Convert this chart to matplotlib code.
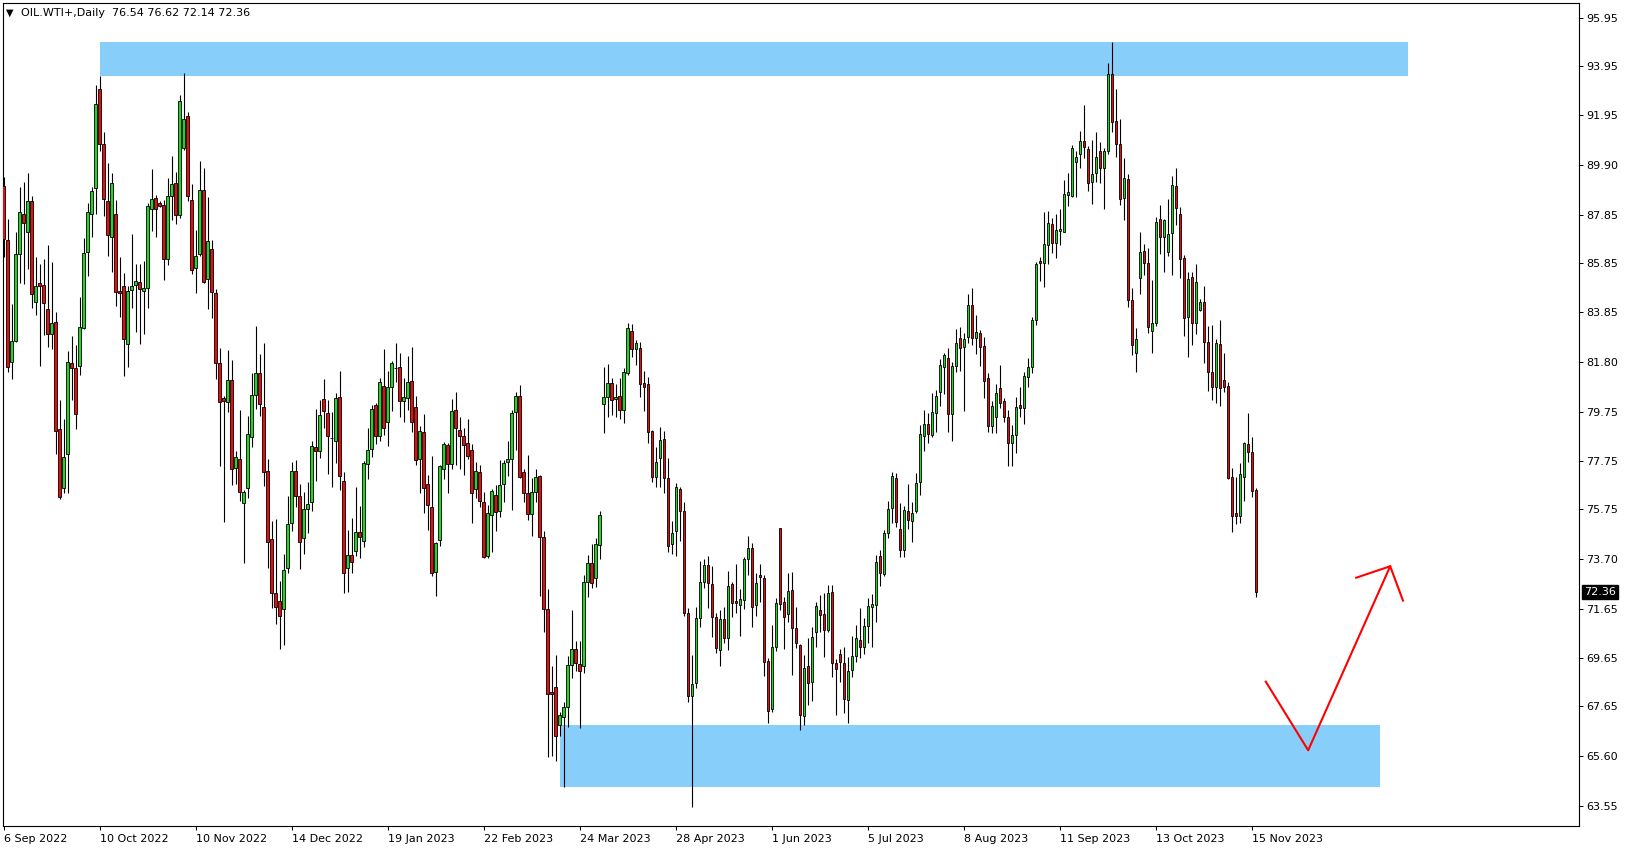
import numpy as np
import matplotlib
matplotlib.use("Agg")
import matplotlib.pyplot as plt
from matplotlib.patches import Rectangle
import matplotlib.transforms as mtransforms

# daily OHLC, 6 Sep 2022 .. 16 Nov 2023
opens = [89.03, 86.82, 81.82, 82.67, 86.23, 87.88, 87.13, 88.41, 84.26, 85.04,
         84.97, 83.98, 82.94, 83.43, 79.04, 76.62, 78.01, 81.75, 81.55, 81.65,
         83.19, 86.31, 87.87, 88.94, 93.00, 90.75, 88.41, 86.95, 87.88, 84.72,
         84.91, 82.54, 84.74, 84.98, 85.08, 84.71, 84.83, 88.10, 88.52, 88.34,
         88.26, 86.02, 88.62, 89.16, 87.83, 90.58, 91.89, 88.45, 85.66, 86.22,
         88.88, 85.20, 86.44, 84.63, 81.77, 80.33, 80.15, 81.07, 77.44, 77.81,
         76.00, 76.62, 78.74, 80.45, 81.34, 79.94, 77.34, 74.52, 72.33, 72.00,
         71.64, 73.33, 75.20, 77.33, 76.31, 74.56, 75.75, 76.03, 78.33, 78.16,
         80.28, 79.70, 78.67, 78.56, 80.35, 76.93, 73.33, 73.86, 74.04, 74.82,
         74.46, 77.60, 78.22, 80.04, 78.78, 80.82, 79.33, 80.76, 81.54, 81.59,
         80.20, 80.31, 81.04, 79.94, 77.81, 78.92, 76.78, 75.83, 73.16, 74.47,
         77.40, 78.40, 77.60, 79.83, 79.01, 78.77, 78.46, 78.19, 76.57, 77.27,
         76.04, 73.85, 75.52, 76.34, 75.66, 76.78, 77.71, 77.81, 79.76, 80.41,
         77.27, 76.41, 75.55, 76.48, 77.12, 74.60, 71.64, 68.23, 68.44, 66.87,
         67.23, 67.62, 69.36, 70.00, 69.40, 69.32, 72.78, 73.53, 72.92, 74.29,
         80.07, 80.35, 80.93, 80.30, 80.42, 79.81, 81.34, 83.09, 82.33, 82.37,
         80.93, 80.89, 78.97, 77.07, 77.85, 78.64, 77.03, 74.32, 74.84, 76.59,
         75.68, 71.48, 68.06, 68.60, 71.27, 72.75, 73.47, 72.67, 71.34, 69.97,
         71.25, 70.48, 72.68, 72.00, 71.82, 72.03, 73.70, 74.15, 71.80, 73.04,
         72.92, 69.52, 67.54, 70.08, 74.97, 71.93, 71.45, 72.44, 70.86, 70.18,
         67.24, 69.32, 68.65, 70.70, 71.62, 71.45, 70.80, 72.37, 69.43, 69.81,
         69.43, 67.92, 69.15, 69.73, 70.38, 70.08, 70.96, 71.73, 71.82, 73.84,
         73.10, 74.77, 75.79, 77.03, 74.93, 74.08, 75.68, 75.25, 75.70, 76.89,
         78.78, 79.26, 78.81, 79.70, 80.55, 81.61, 81.95, 79.67, 81.65, 82.78,
         82.41, 82.82, 84.15, 82.78, 82.98, 82.46, 81.13, 79.18, 79.53, 80.72,
         80.20, 79.53, 78.49, 78.81, 80.04, 79.90, 81.20, 81.59, 83.53, 85.97,
         85.86, 86.61, 87.46, 86.68, 87.19, 87.16, 88.66, 88.64, 90.01, 90.35,
         90.86, 90.54, 89.21, 89.55, 90.45, 89.79, 90.45, 93.62, 91.71, 90.75,
         88.53, 89.31, 84.33, 82.16, 85.27, 86.36, 85.86, 83.09, 83.42, 87.67,
         86.95, 86.30, 87.12, 89.04, 87.88, 86.06, 83.64, 85.28, 83.42, 83.94,
         84.26, 82.61, 81.38, 80.79, 82.53, 81.07, 80.82, 77.07, 75.59, 75.49,
         77.06, 78.42, 78.09, 76.54]
highs = [89.42, 87.67, 84.19, 87.15, 89.01, 89.20, 89.58, 88.64, 86.13, 85.83,
         86.04, 86.61, 85.93, 83.85, 80.24, 79.46, 82.26, 82.87, 82.50, 84.46,
         86.88, 88.32, 89.01, 93.18, 93.55, 91.27, 89.99, 89.55, 88.46, 86.13,
         85.45, 84.94, 87.07, 85.82, 85.82, 85.94, 88.34, 89.73, 88.65, 88.41,
         88.46, 89.34, 90.27, 89.60, 92.77, 93.67, 92.09, 89.11, 87.22, 90.04,
         89.78, 88.57, 86.82, 84.78, 82.39, 80.41, 82.31, 81.89, 78.15, 79.83,
         76.55, 79.59, 81.34, 83.30, 82.13, 82.60, 77.81, 75.29, 75.34, 72.82,
         73.92, 76.30, 77.71, 77.78, 76.79, 76.48, 76.89, 78.56, 79.86, 80.24,
         81.11, 80.24, 79.73, 80.54, 81.43, 77.30, 74.88, 75.38, 76.68, 75.89,
         77.74, 79.08, 80.04, 80.13, 81.16, 82.34, 81.43, 81.85, 82.60, 82.19,
         81.13, 82.05, 82.41, 80.41, 79.18, 79.67, 77.16, 77.94, 74.42, 77.57,
         78.53, 78.46, 80.27, 80.55, 79.53, 79.08, 79.45, 78.44, 77.68, 77.57,
         76.45, 75.93, 76.59, 76.75, 77.78, 77.78, 78.56, 79.81, 80.56, 80.86,
         77.40, 77.98, 77.03, 77.41, 77.16, 74.84, 72.47, 69.32, 69.77, 67.44,
         67.85, 69.73, 71.62, 70.32, 70.32, 73.06, 73.88, 74.33, 74.56, 75.66,
         81.59, 81.72, 81.13, 80.90, 81.13, 81.54, 83.42, 83.37, 82.71, 82.64,
         81.44, 81.18, 79.01, 78.30, 79.12, 78.98, 77.85, 75.25, 76.85, 76.66,
         76.03, 71.71, 69.77, 71.73, 73.64, 73.70, 73.84, 73.42, 71.48, 71.62,
         71.73, 73.22, 72.78, 73.51, 72.48, 73.81, 74.66, 74.36, 73.12, 73.51,
         73.05, 69.63, 71.00, 72.10, 74.97, 72.14, 73.12, 73.19, 71.73, 70.22,
         69.77, 70.45, 70.93, 71.96, 72.23, 72.30, 72.64, 72.64, 69.59, 70.01,
         70.11, 69.67, 70.56, 71.00, 71.71, 71.27, 72.10, 72.27, 73.88, 74.08,
         74.90, 76.11, 77.30, 77.26, 75.99, 75.89, 76.79, 76.07, 77.26, 79.22,
         79.83, 79.70, 80.52, 80.66, 81.91, 82.19, 82.37, 81.79, 83.16, 83.23,
         82.98, 84.60, 84.83, 83.74, 83.12, 82.82, 81.34, 80.18, 80.89, 81.68,
         80.31, 79.83, 79.22, 80.38, 80.79, 81.38, 81.98, 83.67, 85.89, 86.11,
         87.98, 88.01, 87.71, 87.89, 88.09, 89.28, 89.55, 90.72, 90.47, 91.29,
         92.36, 90.68, 90.92, 91.27, 90.83, 90.58, 94.07, 94.96, 93.02, 91.79,
         90.17, 89.51, 84.83, 83.19, 87.16, 86.64, 86.47, 85.15, 87.75, 88.25,
         87.67, 88.50, 89.45, 89.76, 88.16, 86.20, 85.49, 85.49, 85.82, 84.39,
         84.93, 83.28, 83.32, 82.75, 83.53, 82.19, 81.00, 77.44, 77.09, 77.67,
         78.53, 79.70, 78.71, 76.62]
lows = [86.13, 81.41, 81.09, 82.64, 85.06, 85.00, 85.62, 84.01, 83.74, 81.65,
        82.91, 82.41, 82.33, 78.01, 76.16, 76.41, 76.44, 80.22, 79.04, 81.27,
        83.15, 85.35, 86.95, 87.88, 90.45, 87.78, 86.17, 85.49, 84.12, 83.64,
        81.23, 81.61, 84.04, 83.05, 82.54, 82.96, 84.04, 87.20, 86.95, 88.15,
        85.17, 85.79, 87.64, 87.49, 87.72, 90.50, 88.41, 85.40, 84.63, 86.14,
        85.06, 83.98, 83.59, 81.11, 77.52, 75.23, 79.73, 76.75, 76.79, 76.11,
        73.53, 76.20, 78.30, 79.86, 79.59, 76.71, 73.33, 71.69, 71.04, 70.00,
        70.18, 73.12, 74.84, 75.83, 73.30, 73.92, 74.77, 75.70, 76.93, 77.85,
        79.08, 77.20, 76.68, 77.64, 76.55, 72.33, 72.37, 73.15, 73.84, 73.77,
        74.22, 77.00, 77.88, 78.44, 78.56, 78.81, 78.37, 79.80, 80.96, 79.56,
        79.35, 79.83, 78.94, 77.55, 76.44, 75.59, 74.88, 73.03, 72.17, 74.25,
        77.00, 76.44, 77.40, 77.57, 77.40, 77.14, 77.81, 75.20, 76.23, 75.84,
        73.74, 73.74, 74.01, 74.86, 75.45, 76.03, 77.12, 75.73, 78.19, 77.03,
        76.03, 75.31, 74.67, 76.03, 72.19, 70.69, 65.59, 65.62, 65.43, 66.45,
        64.36, 66.82, 68.81, 69.09, 66.76, 69.04, 72.14, 72.51, 72.55, 73.70,
        78.90, 79.53, 79.63, 79.56, 79.45, 79.28, 81.27, 82.00, 81.68, 80.38,
        79.77, 78.46, 76.89, 76.66, 76.66, 76.41, 73.99, 73.92, 73.85, 74.43,
        71.37, 67.85, 63.54, 68.40, 70.93, 72.51, 71.71, 70.52, 69.84, 69.33,
        70.27, 69.97, 71.34, 71.48, 70.56, 71.64, 73.05, 70.90, 71.38, 71.93,
        68.92, 66.96, 67.44, 69.93, 71.62, 70.00, 71.10, 68.95, 70.04, 66.69,
        66.89, 67.70, 67.89, 70.08, 70.73, 69.67, 70.73, 68.85, 67.30, 68.65,
        67.40, 66.96, 68.85, 69.47, 69.63, 69.80, 70.25, 70.11, 71.10, 72.58,
        72.99, 74.56, 75.20, 75.01, 73.78, 73.78, 74.93, 74.42, 75.61, 76.34,
        78.16, 78.46, 78.70, 78.94, 80.01, 80.49, 78.94, 78.57, 81.41, 81.45,
        79.80, 82.57, 82.50, 82.12, 81.65, 80.31, 78.94, 78.87, 78.90, 79.90,
        79.35, 77.51, 77.51, 78.08, 79.56, 79.26, 80.79, 81.34, 83.33, 85.13,
        84.90, 85.82, 86.27, 86.06, 86.59, 87.13, 88.19, 88.56, 88.56, 89.79,
        90.20, 88.83, 88.28, 89.21, 89.14, 88.08, 90.34, 91.24, 90.24, 88.25,
        87.64, 84.08, 82.07, 81.41, 84.59, 85.38, 82.98, 82.19, 83.26, 86.23,
        85.48, 86.16, 85.38, 87.43, 85.24, 82.85, 82.00, 82.48, 82.96, 83.91,
        81.75, 80.63, 80.22, 80.13, 80.01, 80.55, 77.00, 74.83, 75.14, 75.20,
        76.11, 77.71, 76.25, 72.14]
closes = [86.84, 81.59, 82.67, 86.23, 87.95, 87.53, 88.41, 84.59, 84.93, 84.94,
          84.22, 82.94, 83.39, 78.97, 76.27, 77.89, 81.82, 81.55, 79.65, 83.23,
          86.27, 87.95, 88.84, 92.39, 90.75, 88.49, 87.00, 89.14, 84.69, 84.63,
          82.74, 84.71, 84.91, 85.12, 84.78, 84.83, 88.21, 88.49, 88.07, 88.23,
          86.02, 88.62, 89.11, 87.83, 92.51, 91.78, 88.62, 85.59, 86.14, 88.88,
          85.09, 86.76, 84.68, 81.77, 80.15, 80.21, 81.07, 77.40, 77.89, 76.48,
          76.45, 78.83, 80.45, 81.34, 80.08, 77.30, 74.40, 72.30, 71.73, 71.37,
          73.26, 75.15, 77.33, 76.31, 74.40, 75.77, 75.97, 78.35, 78.16, 79.63,
          79.77, 78.78, 78.67, 80.31, 77.12, 73.12, 73.86, 73.58, 74.82, 74.63,
          77.64, 78.19, 79.86, 78.78, 80.97, 79.08, 80.76, 81.75, 81.56, 80.20,
          80.35, 80.99, 79.33, 77.78, 78.97, 76.62, 75.93, 73.12, 74.36, 77.51,
          78.44, 77.60, 79.79, 79.08, 78.77, 78.40, 77.96, 76.44, 77.33, 76.11,
          73.81, 75.59, 76.51, 75.63, 76.75, 77.64, 77.81, 79.70, 80.41, 77.09,
          76.41, 75.55, 76.48, 77.07, 74.60, 71.65, 68.17, 68.15, 66.45, 67.28,
          67.62, 69.36, 70.00, 69.43, 69.12, 72.78, 73.53, 72.74, 74.32, 75.52,
          80.35, 80.93, 80.22, 80.38, 79.81, 81.38, 83.19, 82.33, 82.57, 80.90,
          80.76, 78.94, 77.07, 77.68, 78.60, 77.03, 74.26, 74.77, 76.66, 75.66,
          71.51, 68.06, 68.58, 71.27, 72.75, 73.47, 72.71, 71.34, 70.04, 71.25,
          70.45, 72.60, 71.89, 71.92, 72.05, 73.70, 74.15, 71.73, 72.71, 72.95,
          69.47, 67.48, 70.08, 71.89, 71.85, 71.34, 72.40, 70.86, 70.25, 67.28,
          69.22, 68.60, 70.49, 71.78, 71.39, 70.80, 72.33, 69.43, 69.18, 69.47,
          67.95, 69.12, 69.73, 70.45, 70.08, 70.96, 71.78, 71.86, 73.58, 73.12,
          74.77, 75.77, 77.12, 75.22, 74.08, 75.72, 75.31, 75.61, 76.82, 78.83,
          79.24, 78.85, 79.74, 80.41, 81.68, 82.09, 79.66, 81.64, 82.57, 82.37,
          82.75, 84.15, 82.78, 83.02, 82.41, 81.03, 79.19, 80.00, 80.52, 80.13,
          79.56, 78.46, 78.81, 79.94, 79.90, 81.23, 81.61, 83.53, 85.83, 85.86,
          86.64, 87.50, 86.68, 87.23, 87.27, 88.69, 88.77, 90.58, 90.21, 90.90,
          90.62, 89.15, 89.51, 90.21, 89.79, 90.47, 93.62, 91.68, 90.75, 88.50,
          89.35, 84.35, 82.48, 82.74, 86.31, 85.86, 83.22, 83.42, 87.54, 86.95,
          87.64, 87.06, 89.08, 88.12, 86.02, 83.60, 85.21, 83.42, 85.08, 84.26,
          82.61, 81.38, 80.79, 82.57, 80.75, 80.79, 77.03, 75.49, 75.49, 77.20,
          78.46, 78.12, 76.50, 72.36]

date_labels = ["6 Sep 2022", "10 Oct 2022", "10 Nov 2022", "14 Dec 2022",
               "19 Jan 2023", "22 Feb 2023", "24 Mar 2023", "28 Apr 2023",
               "1 Jun 2023", "5 Jul 2023", "8 Aug 2023", "11 Sep 2023",
               "13 Oct 2023", "15 Nov 2023"]
label_step = 24   # bars between time labels

price_ticks = [95.95, 93.95, 91.95, 89.90, 87.85, 85.85, 83.85, 81.80, 79.75,
               77.75, 75.75, 73.70, 71.65, 69.65, 67.65, 65.60, 63.55]

# drawn objects: (first bar, last bar, low price, high price)
zone_top = (24, 351, 93.55, 94.96)
zone_bottom = (139, 344, 64.36, 66.88)
# red trend lines (bar, price)
path_x = [315.5, 326.1, 346.6]
path_y = [68.67, 65.85, 73.41]
head_x = [338.1, 346.6, 349.8]
head_y = [72.94, 73.41, 72.00]

symbol = "OIL.WTI+,Daily"

o = np.array(opens); h = np.array(highs); l = np.array(lows); c = np.array(closes)
idx = np.arange(len(c))

W, H = 1629, 850
fig = plt.figure(figsize=(W / 100, H / 100), dpi=100)
ax = fig.add_axes([2.7 / W, 24 / H, (1579 - 2.7) / W, (826 - 2.5) / H])

zone_col = "#87CEFA"
for z in (zone_top, zone_bottom):
    ax.add_patch(Rectangle((z[0], z[2]), z[1] - z[0], z[3] - z[2],
                           facecolor=zone_col, edgecolor="none", zorder=1))

ax.vlines(idx, l, h, color="black", linewidth=0.8, zorder=2)
up = c >= o
body_col = np.where(up, "#1ED81E", "#E80C0C")
ax.bar(idx, np.abs(c - o), bottom=np.minimum(o, c), width=0.62,
       color=body_col, edgecolor="black", linewidth=0.6, zorder=3)

ax.plot(path_x, path_y, color="red", linewidth=1.5, zorder=4)
ax.plot(head_x, head_y, color="red", linewidth=1.5, zorder=4)

ax.set_xlim(-0.25, 393.8)
ax.set_ylim(62.74, 96.57)

ax.yaxis.tick_right()
ax.set_yticks(price_ticks)
ax.set_yticklabels(["%.2f" % v for v in price_ticks])
ax.tick_params(axis="y", direction="out", length=3, width=0.7, pad=2, labelsize=8)

xt = np.arange(len(date_labels)) * label_step
ax.set_xticks(xt)
ax.set_xticklabels(date_labels, ha="left")
ax.tick_params(axis="x", direction="out", length=3, width=0.7, pad=3, labelsize=8)

for s in ax.spines.values():
    s.set_linewidth(0.8)
    s.set_color("black")

# current price tag
trans = mtransforms.blended_transform_factory(ax.transAxes, ax.transData)
ax.text(1.003, c[-1], "%.2f" % c[-1], transform=trans, color="white", fontsize=8,
        va="center", ha="left",
        bbox=dict(facecolor="black", edgecolor="black", boxstyle="square,pad=0.2"))

fig.text(9.5 / W, 1 - 12.5 / H, "\u25BC", fontsize=7, va="center", ha="center")
fig.text(21 / W, 1 - 12.5 / H,
         "%s  %.2f %.2f %.2f %.2f" % (symbol, o[-1], h[-1], l[-1], c[-1]),
         fontsize=8, va="center", ha="left")

fig.savefig("out.png", dpi=100)
